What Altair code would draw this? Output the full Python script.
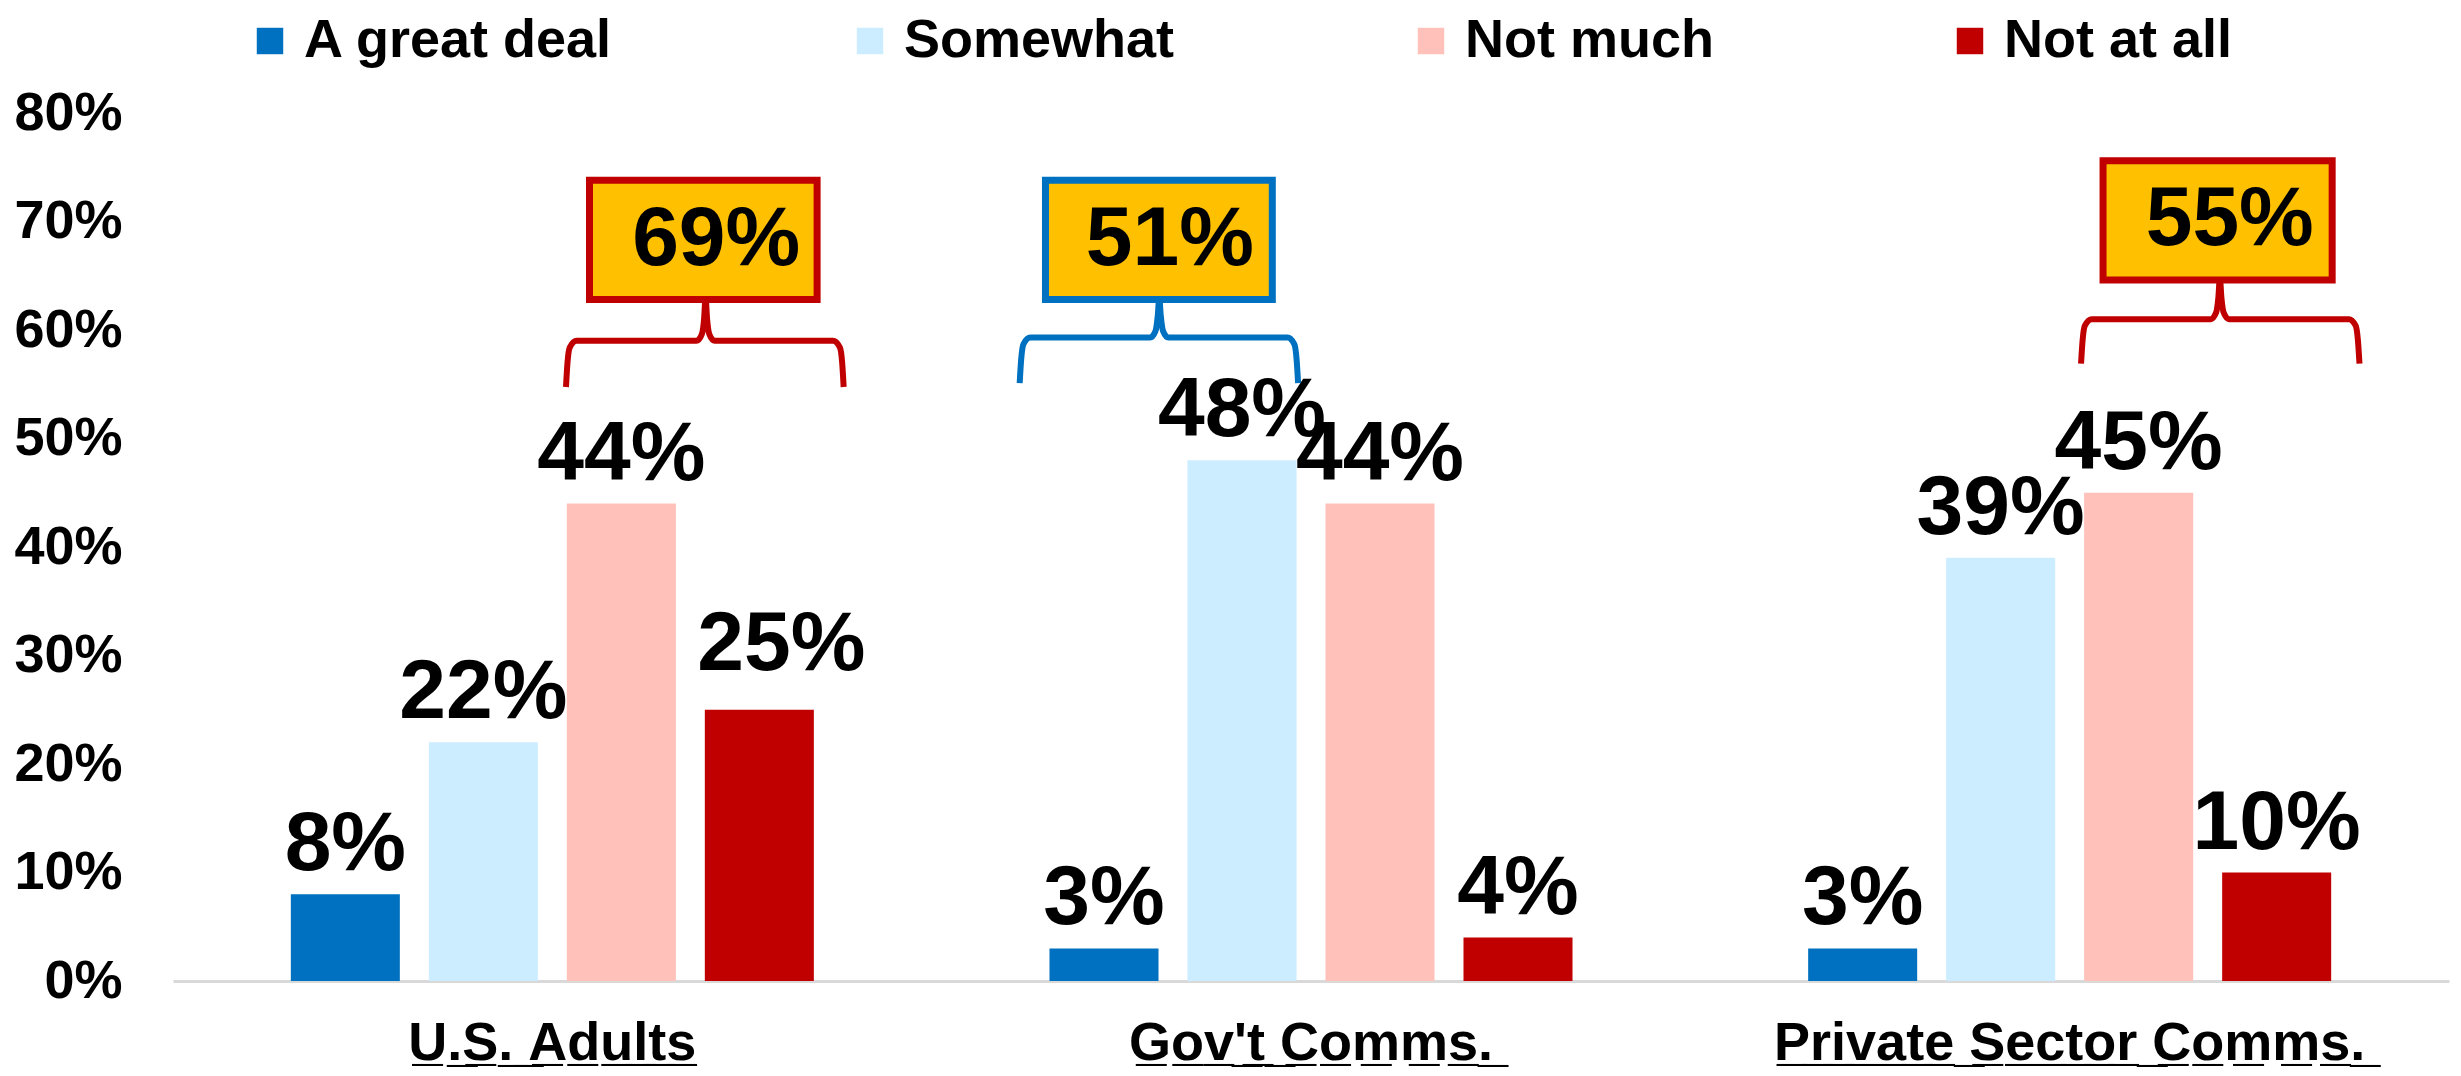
import altair as alt
import pandas as pd

# ---------------- data ----------------
GROUPS = ["U.S. Adults", "Gov't Comms.", "Private Sector Comms."]
SERIES = ["A great deal", "Somewhat", "Not much", "Not at all"]
GREAT_DEAL = [0.08, 0.03, 0.03]
SOMEWHAT = [0.22, 0.48, 0.39]
NOT_MUCH = [0.44, 0.44, 0.45]
NOT_AT_ALL = [0.25, 0.04, 0.10]
COLORS = ["#0070C0", "#CCECFF", "#FFC1B9", "#C00000"]
Y_TICKS = [0, 0.1, 0.2, 0.3, 0.4, 0.5, 0.6, 0.7, 0.8]

# callouts (combined shares)
CALLOUT_TEXT = ["69%", "51%", "55%"]
CALLOUT_STROKE = ["#C00000", "#0070C0", "#C00000"]

# ---------------- annotation placement (x in group units 0..3, y in data units) ----------------
BOX_X0 = [0.549, 1.150, 2.544]
BOX_X1 = [0.849, 1.449, 2.846]
BOX_Y0 = [0.628, 0.628, 0.646]
BOX_Y1 = [0.738, 0.738, 0.756]
TEXT_X = [0.716, 1.314, 2.711]
TEXT_Y = [0.683, 0.683, 0.701]
BR_XL = [0.518, 1.116, 2.515]
BR_XM = [0.702, 1.300, 2.698]
BR_XR = [0.884, 1.483, 2.882]
BR_YE = [0.5475, 0.551, 0.569]
BR_YH = [0.590, 0.593, 0.610]
BR_YP = [0.630, 0.630, 0.648]

SHIFTED_LABEL = ("U.S. Adults", "Not at all")

FONT = "Liberation Sans"

series_vals = [GREAT_DEAL, SOMEWHAT, NOT_MUCH, NOT_AT_ALL]
rows = []
for gi, g in enumerate(GROUPS):
    for si, s in enumerate(SERIES):
        rows.append({"group": g, "series": s, "value": series_vals[si][gi]})
df = pd.DataFrame(rows)

UL = "\u0332"
x_axis = alt.Axis(
    title=None, labelAngle=0, labelFontSize=54, labelFontWeight="bold",
    labelColor="black", labelPadding=35, labelLimit=3000, ticks=False,
    domainColor="#D9D9D9", domainWidth=3, grid=False, labelFont=FONT,
    labelExpr="replace(datum.label, regexp('(.)', 'g'), '$1" + UL + "')",
)
y_axis = alt.Axis(
    title=None, values=Y_TICKS, format=".0%", labelFontSize=54,
    labelFontWeight="bold", labelColor="black", labelPadding=51,
    domain=False, ticks=False, grid=False, labelFont=FONT,
)

x_enc = alt.X("group:N", sort=GROUPS,
              scale=alt.Scale(paddingInner=0.2724, paddingOuter=0.1362),
              axis=x_axis)
xo_enc = alt.XOffset("series:N", sort=SERIES,
                     scale=alt.Scale(paddingInner=0.21, paddingOuter=0.105))
y_enc = alt.Y("value:Q", scale=alt.Scale(domain=[0, 0.8], nice=False), axis=y_axis)

bars = alt.Chart(df).mark_bar().encode(
    x=x_enc, xOffset=xo_enc, y=y_enc,
    color=alt.Color(
        "series:N", sort=SERIES,
        scale=alt.Scale(domain=SERIES, range=COLORS),
        legend=alt.Legend(
            title=None, orient="none", legendX=70, legendY=-99,
            direction="horizontal", symbolType="square", symbolSize=700,
            symbolStrokeWidth=0, symbolOpacity=1, labelFontSize=54,
            labelFontWeight="bold", labelColor="black", labelFont=FONT,
            labelOffset=7, columnPadding=229, padding=0, labelLimit=3000,
        ),
    ),
)

is_shifted = (alt.datum.group == SHIFTED_LABEL[0]) & (alt.datum.series == SHIFTED_LABEL[1])

label_enc = dict(
    x=alt.X("group:N", sort=GROUPS),
    xOffset=alt.XOffset("series:N", sort=SERIES),
    y=alt.Y("value:Q"),
    text=alt.Text("value:Q", format=".0%"),
)
labels = alt.Chart(df).transform_filter(~is_shifted).mark_text(
    font=FONT, fontSize=84, fontWeight="bold", baseline="alphabetic",
    dy=-24, color="black",
).encode(**label_enc)
labels_shift = alt.Chart(df).transform_filter(is_shifted).mark_text(
    font=FONT, fontSize=84, fontWeight="bold", baseline="alphabetic",
    dy=-40, dx=22, color="black",
).encode(**label_enc)

main = alt.layer(bars, labels, labels_shift)

# ---------------- callouts ----------------
XS = alt.Scale(domain=[0, 3], nice=False, zero=False)

box_df = pd.DataFrame({
    "x0": BOX_X0, "x1": BOX_X1, "y0": BOX_Y0, "y1": BOX_Y1,
    "stroke": CALLOUT_STROKE,
})
txt_df = pd.DataFrame({"x": TEXT_X, "y": TEXT_Y, "label": CALLOUT_TEXT})

br_rows = []
for i in range(len(CALLOUT_TEXT)):
    xl, xm, xr = BR_XL[i], BR_XM[i], BR_XR[i]
    ye, yh, yp = BR_YE[i], BR_YH[i], BR_YP[i]
    pts = [
        (xl, ye), (xl + 0.002, yh - 0.02), (xl + 0.005, yh - 0.006), (xl + 0.014, yh),
        (xm - 0.012, yh), (xm - 0.005, yh + 0.006), (xm - 0.002, yh + 0.02), (xm, yp),
        (xm + 0.002, yh + 0.02), (xm + 0.005, yh + 0.006), (xm + 0.012, yh),
        (xr - 0.014, yh), (xr - 0.005, yh - 0.006), (xr - 0.002, yh - 0.02), (xr, ye),
    ]
    for k, (px, py) in enumerate(pts):
        br_rows.append({"callout": i, "order": k, "x": px, "y": py,
                        "stroke": CALLOUT_STROKE[i]})
br_df = pd.DataFrame(br_rows)

brackets = alt.Chart(br_df).mark_line(
    strokeWidth=6, interpolate="monotone", strokeJoin="round", strokeCap="butt"
).encode(
    x=alt.X("x:Q", scale=XS, axis=None),
    y=alt.Y("y:Q", title=None),
    order="order:Q",
    detail="callout:N",
    stroke=alt.Stroke("stroke:N", scale=None),
)
boxes = alt.Chart(box_df).mark_rect(fill="#FFC000", strokeWidth=7).encode(
    x=alt.X("x0:Q", scale=XS, axis=None), x2="x1",
    y=alt.Y("y0:Q", title=None), y2="y1",
    stroke=alt.Stroke("stroke:N", scale=None),
)
box_text = alt.Chart(txt_df).mark_text(
    font=FONT, fontSize=84, fontWeight="bold", baseline="middle",
    align="center", color="black",
).encode(
    x=alt.X("x:Q", scale=XS, axis=None),
    y=alt.Y("y:Q", title=None),
    text="label:N",
)
ann = alt.layer(brackets, boxes, box_text)

chart = alt.layer(main, ann).resolve_scale(x="independent").properties(
    width=2276, height=868,
    padding={"left": 165, "top": 105, "right": 4, "bottom": 90},
    autosize=alt.AutoSizeParams(type="none"),
    background="white",
).configure(font=FONT).configure_view(stroke=None, strokeWidth=0)

chart.save("out.html", embed_options={"renderer": "svg", "actions": False})
